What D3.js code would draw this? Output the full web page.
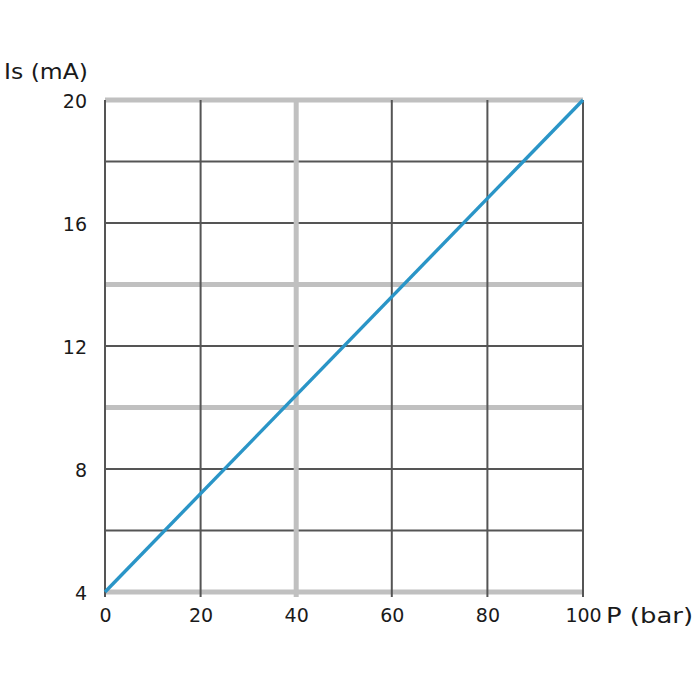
<!DOCTYPE html>
<html>
<head>
<meta charset="utf-8">
<script src="https://cdn.jsdelivr.net/npm/d3@7"></script>
<style>
body { margin: 0; background: #fff; }
text { font-family: "DejaVu Sans", "Liberation Sans", sans-serif; fill: #1a1a1a; }
</style>
</head>
<body>
<div id="chart"></div>
<script>
// pressure (bar) vs. current (mA)
var pressure = [0, 100];
var current = [4, 20];

var xTicks = [0, 20, 40, 60, 80, 100];
var yTicks = [4, 8, 12, 16, 20];
var yGrid = [4, 6, 8, 10, 12, 14, 16, 18, 20];
// grid lines drawn wide and light grey in the original
var xGridLight = [40];
var yGridLight = [4, 10, 14, 20];

var w = 700, h = 700;
var margin = {top: 100, right: 117, bottom: 108, left: 105};
var width = w - margin.left - margin.right;
var height = h - margin.top - margin.bottom;

var xS = d3.scaleLinear().domain([0, 100]).range([0, width]);
var yS = d3.scaleLinear().domain([4, 20]).range([height, 0]);

var svg = d3.select("#chart").append("svg")
	.attr("width", w)
	.attr("height", h)
  .append("g")
	.attr("transform", "translate(" + margin.left + "," + margin.top + ")");

// horizontal grid
svg.selectAll(".gridY")
	.data(yGrid)
  .enter().append("line")
	.attr("class", "gridY")
	.attr("x1", 0)
	.attr("x2", width)
	.attr("y1", function(d) { return yS(d); })
	.attr("y2", function(d) { return yS(d); })
	.attr("stroke", function(d) { return yGridLight.indexOf(d) >= 0 ? "#c0c0c0" : "#555"; })
	.attr("stroke-width", function(d) { return yGridLight.indexOf(d) >= 0 ? 5 : 2; });

// vertical grid
svg.selectAll(".gridX")
	.data(xTicks)
  .enter().append("line")
	.attr("class", "gridX")
	.attr("x1", function(d) { return xS(d); })
	.attr("x2", function(d) { return xS(d); })
	.attr("y1", 0)
	.attr("y2", height + 5)
	.attr("stroke", function(d) { return xGridLight.indexOf(d) >= 0 ? "#c0c0c0" : "#555"; })
	.attr("stroke-width", function(d) { return xGridLight.indexOf(d) >= 0 ? 5 : 2; });

// axes (labels only)
var xAxis = d3.axisBottom(xS).tickValues(xTicks).tickSize(0).tickPadding(17);
var yAxis = d3.axisLeft(yS).tickValues(yTicks).tickSize(0).tickPadding(18);

svg.append("g")
	.attr("transform", "translate(0," + height + ")")
	.call(xAxis)
	.call(function(g) { g.select(".domain").remove(); })
	.selectAll("text")
	.style("font-family", "DejaVu Sans")
	.style("font-size", "19px")
	.attr("fill", "#1a1a1a");

svg.append("g")
	.call(yAxis)
	.call(function(g) { g.select(".domain").remove(); })
	.selectAll("text")
	.style("font-family", "DejaVu Sans")
	.style("font-size", "19px")
	.attr("dy", "0.4em")
	.attr("fill", "#1a1a1a");

// data line
var line = d3.line()
	.x(function(d, i) { return xS(pressure[i]); })
	.y(function(d) { return yS(d); });

svg.append("path")
	.datum(current)
	.attr("fill", "none")
	.attr("stroke", "#2a95c7")
	.attr("stroke-width", 3.4)
	.attr("d", line);

// axis titles
svg.append("text")
	.attr("x", xS(100) + 23)
	.attr("y", height + 31)
	.attr("textLength", 87)
	.attr("lengthAdjust", "spacingAndGlyphs")
	.style("font-size", "22px")
	.text("P (bar)");

svg.append("text")
	.attr("x", -101)
	.attr("y", -21)
	.attr("textLength", 84)
	.attr("lengthAdjust", "spacingAndGlyphs")
	.style("font-size", "22px")
	.text("Is (mA)");
</script>
</body>
</html>
